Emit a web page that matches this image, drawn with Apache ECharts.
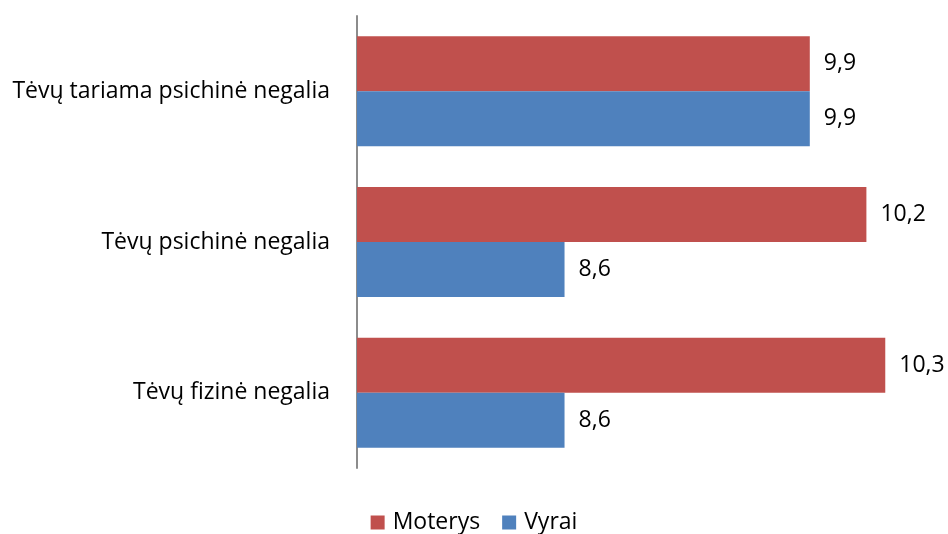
<!DOCTYPE html>
<html>
<head>
<meta charset="utf-8">
<script src="https://cdn.jsdelivr.net/npm/echarts@6/dist/echarts.min.js"></script>
<style>
  html, body { margin: 0; padding: 0; background: #fff; }
  #main { width: 948px; height: 534px; }
</style>
</head>
<body>
<div id="main"></div>
<script>
const categories = [
  'Tėvų tariama psichinė negalia',
  'Tėvų psichinė negalia',
  'Tėvų fizinė negalia'
]
const moterys = [9.9, 10.2, 10.3]
const vyrai = [9.9, 8.6, 8.6]

const chart = echarts.init(document.getElementById('main'))
const font = 'Open Sans'

const labelOpt = {
  show: true,
  position: 'right',
  distance: 14,
  color: '#000',
  fontFamily: font,
  fontSize: 23,
  formatter: p => String(p.value).replace('.', ',')
}

chart.setOption({
  animation: false,
  textStyle: { fontFamily: font },
  grid: { left: 357, right: 25, top: 16, bottom: 66, containLabel: false },
  legend: {
    top: 506,
    left: 'center',
    itemWidth: 14,
    itemHeight: 14,
    itemGap: 22,
    icon: 'rect',
    textStyle: { fontFamily: font, fontSize: 23, color: '#000', padding: [0, 0, 0, 3] },
    data: ['Moterys', 'Vyrai']
  },
  xAxis: {
    type: 'value',
    min: 7.5,
    max: 10.5,
    show: false,
    splitLine: { show: false }
  },
  yAxis: {
    type: 'category',
    data: categories,
    inverse: true,
    axisLine: { show: true, lineStyle: { color: '#8c8c8c', width: 2 } },
    axisTick: { show: false },
    axisLabel: { color: '#000', fontFamily: font, fontSize: 23, margin: 27 }
  },
  series: [
    {
      name: 'Moterys',
      type: 'bar',
      data: moterys,
      barGap: '0%',
      barCategoryGap: '27%',
      itemStyle: { color: '#C0504D' },
      label: labelOpt
    },
    {
      name: 'Vyrai',
      type: 'bar',
      data: vyrai,
      itemStyle: { color: '#4F81BD' },
      label: labelOpt
    }
  ]
})
</script>
</body>
</html>
